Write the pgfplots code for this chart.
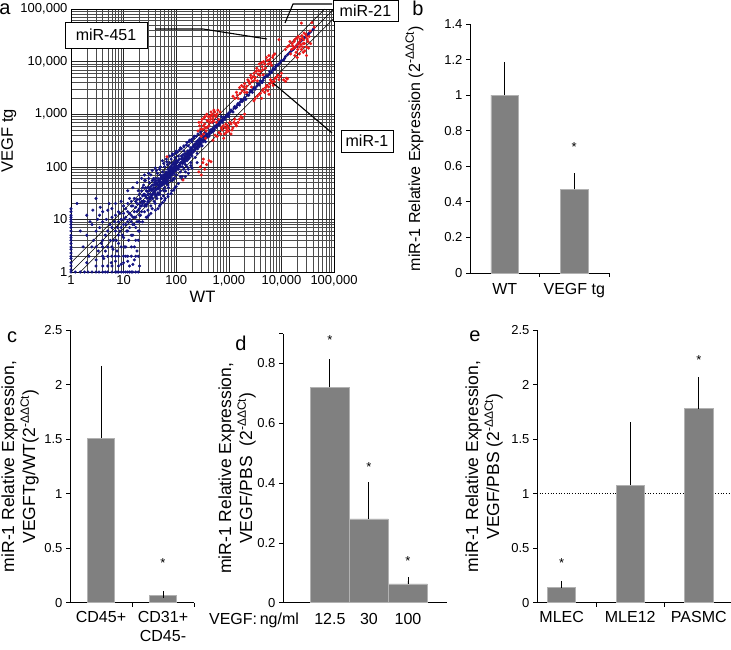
\documentclass[border=0pt]{standalone}
\usepackage{pgfplots}
\pgfplotsset{compat=1.18}
\usepackage{fontspec}
\setmainfont{Liberation Sans}
\definecolor{dotblue}{RGB}{20,20,130}
\definecolor{dotred}{RGB}{235,25,25}
\definecolor{bargray}{RGB}{128,128,128}
\newcommand{\ddct}[1]{\textsuperscript{\fontsize{#1}{#1}\selectfont -ΔΔCt}}
\pgfplotsset{
  barpanel/.style={
    scale only axis, anchor=south west,
    axis x line*=bottom, axis y line*=left,
    axis line style={-, black, line width=0.8pt},
    tick align=outside, major tick length=4pt,
    tick style={black, line width=0.8pt},
    /pgf/number format/assume math mode=true,
    yticklabel style={font=\fontsize{13}{15}\selectfont},
    xticklabel style={font=\fontsize{16}{19}\selectfont, align=center},
    ylabel style={font=\fontsize{17.5}{21}\selectfont, align=center},
    clip=false,
  },
  barstyle/.style={ybar, bar shift=0pt, fill=bargray, draw=black!30, line width=0.6pt,
    error bars/.cd, y dir=plus, y explicit,
    error bar style={black, line width=0.9pt},
    error mark options={black, line width=0.9pt, mark size=3.6pt}},
}
\begin{document}
\begin{tikzpicture}[x=1pt,y=1pt]
\useasboundingbox (0,0) rectangle (731,649);
% ---------------- panel a ----------------
\begin{axis}[
  at={(71pt,377pt)}, anchor=south west, scale only axis, width=263pt, height=263pt,
  xmode=log, ymode=log, xmin=1, xmax=100000, ymin=1, ymax=100000,
  xtick={1,10,100,1000,10000,100000}, xticklabels={1,10,100,{1,000},{10,000},{100,000}},
  ytick={1,10,100,1000,10000,100000}, yticklabels={1,10,100,{1,000},{10,000},{100,000}},
  minor xtick={2,3,4,5,6,7,8,9,20,30,40,50,60,70,80,90,200,300,400,500,600,700,800,900,2000,3000,4000,5000,6000,7000,8000,9000,20000,30000,40000,50000,60000,70000,80000,90000},
  minor ytick={2,3,4,5,6,7,8,9,20,30,40,50,60,70,80,90,200,300,400,500,600,700,800,900,2000,3000,4000,5000,6000,7000,8000,9000,20000,30000,40000,50000,60000,70000,80000,90000},
  grid=both,
  major grid style={black!85, line width=0.55pt},
  minor grid style={black!70, line width=0.45pt},
  major tick length=0pt, minor tick length=0pt,
  axis line style={black, line width=0.7pt},
  tick label style={font=\fontsize{13}{15}\selectfont},
  xlabel={WT}, ylabel={VEGF tg},
  label style={font=\fontsize{16.5}{19}\selectfont},
  xlabel style={at={(axis description cs:0.5,-0.095)}, anchor=center},
  ylabel style={at={(axis description cs:-0.236,0.5)}, anchor=center},
]
\addplot[black, line width=0.5pt] coordinates {(1,1) (100000,100000)};
\addplot[black, line width=0.5pt] coordinates {(1,1.5) (66667,100000)};
\addplot[black, line width=0.5pt] coordinates {(1.5,1) (100000,66667)};
\addplot[only marks, mark=*, mark size=1.35pt, color=dotblue] coordinates {
(1,1)(1,1.1)(1,1.3)(1,1.5)(1,1.8)(1,2)(1,2.3)(1,2.7)(1,3)(1,3.5)(1,4)(1,4.5)(1,5)(1,6)(1,7)(1,8)(1,9)(1,10)(1,11)(1,12)(1,14)(1,16)
(1.2,1)(1.5,1)(1.8,1)(2.1,1)(2.5,1)(3,1)(3.4,1)(4,1)(4.5,1)(5,1)(6,1)(7,1)(7.5,1)(8,1)(9,1)(10,1)(11,1)(12,1)(13,1)(14,1)(15,1)(17,1)(19,1)
(4,2)(5,2)(6,2)(7,2)(8,2)(10,2)(12,2)(14,2)(17,2)(19,2)
(1.3,20)(1.5,6)(1.7,3)(2,12)(2.2,2)(2.5,8)(2.7,4)(3,25)(3,6)(3.3,2.5)(3.5,12)(3.8,3.5)(4,9)(4.2,1.8)(4.5,5)(5,15)(5,3)(5.5,8)(5.8,1.5)(6,11)(6.5,4)(7,20)(7,6)(7.5,2.5)(8,9)(8,5)(8.5,13)(9,3)(9,7)(10,10)(10,18)(10,4.5)(11,8)(11,2)(12,14)(12,6)(13,25)(13,10)(14,5)(14,12)(15,8)(15,18)(16,3)(16,11)(17,22)(17,7)(18,14)(19,9)(20,30)(20,16)(20,6)(6,1.3)(9,1.4)(12,1.6)(15,1.4)(18,2.5)(4,1.3)(3.6,17)
(2,5)(2.3,9)(2.6,15)(3,3)(3.2,10)(3.5,7)(4,4)(4,14)(4.5,2.5)(4.7,10)(5,6)(5.3,20)(5.6,4)(6,7)(6,16)(6.3,2.7)(6.7,9)(7,12)(7.3,4)(7.7,7)(8,14)(8,3.5)(8.5,6)(9,10)(9,22)(9.5,5)(10,8)(10,13)(10.5,3)(11,11)(11,16)(11.5,6)(12,9)(12,20)(12.5,4)(13,13)(13,7)(14,9)(14,22)(15,11)(15,5)(16,14)(16,8)(17,17)(17,11)(18,9)(18,24)(19,15)(19,6)(20,12)(20,20)(20,9)
(2,1.5)(3,1.7)(5,1.3)(7,1.6)(10,1.5)(13,1.3)(16,1.7)(20,1.3)(3,1.3)(8,1.3)(2.5,3)(4,3)(6,3)(11,3)(14,3)(17,4)(19,4)
(21,25)(21,12)(22,35)(22,18)(23,9)(23,28)(24,22)(24,45)(25,14)(25,30)(26,19)(26,55)(27,11)(27,26)(28,34)(28,20)(29,15)(29,40)(30,30)(30,60)(30,12)(32,24)(32,38)(33,18)(33,70)(35,30)(35,45)(35,16)(36,25)(36,55)(38,40)(38,22)(40,35)(40,60)(40,20)(42,48)(42,28)(44,38)(44,75)(46,30)(46,55)(48,42)(48,90)(50,50)(50,35)(50,70)(52,25)(52,60)(55,45)(55,80)(58,52)(58,35)(60,65)(60,100)(60,40)(62,55)(65,75)(65,48)(68,60)(68,110)(70,70)(70,45)(72,90)(75,65)(75,120)(78,55)(80,85)(80,140)(84,70)(88,95)(88,60)(90,110)(95,85)(95,150)(100,100)(100,70)(100,130)
(20,24)(21,18)(22,22)(23,20)(23,40)(24,30)(25,22)(25,18)(26,28)(27,35)(27,18)(28,25)(29,30)(29,22)(30,40)(31,26)(31,35)(32,30)(33,42)(33,26)(34,36)(35,55)(36,38)(36,30)(37,45)(38,32)(39,50)(39,35)(40,45)(40,28)(41,55)(42,38)(43,50)(44,45)(45,32)(45,60)(46,45)(47,38)(48,55)(49,48)(50,60)(50,42)(51,52)(53,65)(54,50)(55,58)(56,48)(57,70)(58,62)(59,55)(60,55)(61,72)(62,65)(63,50)(64,80)(65,60)(66,55)(67,78)(68,72)(69,65)(70,90)(71,60)(72,70)(73,65)(74,85)(75,80)(76,72)(77,100)(78,80)(79,70)(80,70)(81,100)(82,90)(83,85)(84,110)(85,75)(86,95)(87,85)(88,120)(89,80)(90,90)(91,75)(92,115)(93,100)(94,85)(95,120)(96,95)(97,90)(98,130)(99,85)
(30,22)(34,28)(37,33)(41,30)(45,40)(47,52)(53,45)(56,62)(59,48)(63,58)(66,70)(69,52)(73,80)(76,62)(79,95)(82,75)(86,80)(92,95)(97,110)(105,120)(115,100)(125,140)(135,130)(145,160)(155,140)(165,200)(175,160)(185,210)(195,180)(205,240)(215,200)(225,270)(235,230)(245,280)(255,220)(265,300)(275,240)(285,320)(295,280)(18,20)(16,25)(14,18)(19,35)(22,14)(26,40)(31,50)(37,60)(43,25)(49,30)(57,28)(63,35)(71,40)(85,55)(94,60)(120,65)(140,90)(160,100)(190,120)(230,150)
(30,75)(35,85)(40,95)(45,16)(50,19)(55,130)(60,23)(65,140)(70,27)(75,160)(80,31)(85,175)(90,36)(100,200)(100,42)(110,48)(120,230)(130,58)(140,250)(150,65)(160,290)(170,75)(180,320)(200,95)(220,380)(250,120)(15,40)(18,50)(22,60)(25,70)(12,35)(28,11)(33,13)(40,15)(48,18)(55,21)(62,25)(70,30)(82,35)(95,40)(130,65)(150,80)(170,90)(190,105)(25,55)(42,85)(50,100)(58,115)(66,125)(85,165)(95,180)(105,190)(115,210)(125,220)(140,240)(155,260)(175,300)(195,330)(215,350)(240,380)(260,420)(290,460)
(105,95)(108,130)(112,105)(115,140)(118,110)(122,100)(125,160)(128,120)(132,115)(135,170)(138,140)(142,130)(145,125)(148,180)(152,140)(155,170)(158,150)(162,145)(165,160)(168,190)(172,175)(175,200)(178,170)(182,180)(185,170)(188,230)(192,200)(195,210)(198,190)
(110,90)(110,160)(120,120)(120,80)(130,150)(130,100)(140,120)(140,200)(150,150)(150,110)(160,180)(160,130)(170,140)(170,250)(180,200)(180,150)(190,170)(200,220)(200,160)(200,300)(210,190)(220,260)(230,210)(240,300)(250,240)(250,180)(260,320)(270,260)(280,350)(290,270)(300,300)(300,400)(310,250)(320,380)(340,330)(350,450)(360,300)(380,420)(400,400)(400,550)(420,380)(450,500)(470,450)(500,520)(500,700)(520,480)(550,600)(580,560)(600,650)(620,800)(650,620)(680,720)(700,750)(720,900)(750,700)(800,850)(850,800)(900,950)(950,1000)(1000,1050)(1000,900)
(205,200)(215,250)(225,230)(235,260)(245,230)(255,270)(265,250)(275,290)(285,270)(295,320)(310,330)(325,300)(335,360)(345,320)(355,380)(365,350)(375,400)(390,370)(410,430)(430,420)(440,460)(460,480)(480,520)(490,470)(510,550)(530,520)(560,580)(590,600)(610,620)(640,680)(670,650)(690,700)(730,760)(760,800)(790,780)(820,870)(870,900)(920,900)(980,1000)
(1100,1200)(1200,1100)(1300,1400)(1400,1350)(1500,1600)(1600,1500)(1700,1900)(1800,1750)(2000,2100)(2100,1900)(2200,2400)(2400,2300)(2600,2800)(2800,2600)(3000,3200)(3200,3000)(3500,3800)(3800,3600)(4000,4300)(4300,4000)(4600,4900)(5000,5200)(5500,5300)(6000,6400)(6500,6200)(7000,7500)(7500,7200)(8000,8500)(9000,9000)(10000,10500)(11000,10800)(12000,12500)(13000,13500)(14000,14500)(16000,16500)(18000,18500)(20000,21000)(22000,23000)(25000,26000)(28000,29000)(32000,33000)(36000,37000)(40000,41000)
(1050,1100)(1150,1150)(1250,1300)(1350,1300)(1450,1500)(1550,1550)(1650,1700)(1750,1800)(1900,1900)(2050,2000)(2300,2300)(2500,2600)(2700,2700)(2900,3000)(3100,3100)(3400,3400)(3700,3700)(4100,4100)(4500,4400)(4800,5000)(5200,5400)(5800,5700)(6200,6300)(6800,6900)(7200,7100)(7800,8000)(8500,8600)(9500,9700)(11500,11500)(15000,15500)(17000,17200)(19000,19500)(21000,22000)(23000,24000)(26000,27000)(30000,31000)(34000,35000)
};
\addplot[only marks, mark=*, mark size=1.35pt, color=dotred] coordinates {
(260,480)(280,600)(300,700)(320,520)(340,850)(350,650)(370,480)(380,1000)(400,760)(420,600)(440,900)(460,1100)(480,700)(500,850)(520,1200)(550,950)(580,700)(600,1000)(300,380)(330,420)(360,350)(390,560)(450,800)
(270,700)(290,520)(310,800)(330,600)(350,900)(360,550)(390,750)(410,900)(430,700)(460,950)(490,1000)(510,750)(540,1100)(570,900)(620,1200)(640,800)(680,1100)
(500,320)(600,380)(700,420)(750,500)(800,350)(850,550)(900,450)(950,600)(1000,480)(1100,650)(1200,550)(1300,800)(1500,700)(1700,900)(2000,1000)(1100,420)(1400,600)
(550,400)(650,450)(720,550)(780,600)(830,420)(880,650)(920,500)(980,550)(1050,700)(1150,500)(1250,700)(1350,650)(1600,800)(1800,850)
(1200,2200)(1400,2600)(1500,2000)(1600,3200)(1800,2800)(2000,3800)(2100,3000)(2300,4500)(2500,3800)(2600,5500)(2800,4200)(3000,6000)(3200,5000)(3400,7500)(3600,5800)(3800,9000)(4000,6500)(4300,8000)(4600,10000)(5000,7500)(5200,12000)(5600,9000)(6000,11000)(6500,8500)(7000,13000)(2200,2600)(2700,3300)(3500,4300)(4500,5600)
(1300,2000)(1450,2300)(1650,2500)(1750,3500)(1900,3300)(2000,2600)(2200,3400)(2400,4200)(2700,4800)(2900,5200)(3100,4400)(3300,6500)(3700,6800)(3900,5500)(4200,9500)(4400,7000)(4800,9000)(5400,10500)(5800,13000)(6200,9500)(6800,12000)(7500,14000)
(3000,1800)(3500,2200)(4000,2500)(4500,3000)(5000,3200)(5500,2800)(6000,3800)(6500,4200)(7000,3500)(7500,4800)(8000,5000)(9000,4500)(12000,4200)(13000,4700)(10000,6000)(4200,2000)(5800,2400)
(3200,2000)(3800,2400)(4400,2800)(4800,2600)(5200,3500)(5700,3300)(6200,4500)(6800,3900)(7300,4200)(8500,5500)(9500,5200)(11000,4500)(12500,4800)
(9000,26000)(12000,17000)(14000,20000)(15000,14000)(16000,22000)(17000,18000)(18000,26000)(19000,15000)(20000,21000)(21000,30000)(22000,19000)(23000,25000)(24000,17000)(25000,28000)(26000,22000)(27000,35000)(28000,16000)(30000,30000)(32000,24000)(33000,18000)(35000,38000)(24000,54000)(38000,55000)(42000,45000)(20000,12000)(30000,13000)
(13000,19000)(14500,24000)(15500,17000)(16500,20000)(17500,24000)(18500,19000)(19500,28000)(20500,17000)(21500,23000)(22500,27000)(23500,21000)(24500,31000)(25500,19000)(26500,26000)(27500,22000)(29000,33000)(31000,27000)(34000,30000)(36000,22000)(30000,19000)(26000,15000)(22000,14000)(18000,13000)
(270,80)(290,100)(320,120)(350,90)(380,110)(420,130)(460,125)(300,70)(67,155)(135,56)(330,140)
};
\end{axis}
% callouts
\draw[line width=1.1pt] (155,620) -- (203,620) -- (267,610);
\node[draw, line width=0.8pt, fill=white, minimum width=82pt, minimum height=26pt, inner sep=0pt, font=\fontsize{16}{18}\selectfont] at (106,614) {miR-451};
\draw[line width=1.1pt] (332,645) -- (293,645) -- (285,626);
\node[draw, line width=0.8pt, fill=white, minimum width=65pt, minimum height=21pt, inner sep=0pt, font=\fontsize{16}{18}\selectfont] at (365.5,638.5) {miR-21};
\draw[line width=1.1pt] (332,516) -- (273,566);
\node[draw, line width=0.8pt, fill=white, minimum width=52pt, minimum height=22pt, inner sep=0pt, font=\fontsize{16}{18}\selectfont] at (367,508) {miR-1};
% ---------------- panel b ----------------
\begin{axis}[barpanel, at={(470pt,376pt)}, width=139pt, height=249pt,
  xmin=-0.5, xmax=1.5, ymin=0, ymax=1.4,
  ytick={0,0.2,0.4,0.6,0.8,1,1.2,1.4},
  xtick={0.5,1.5}, xticklabels={,,},
  extra x ticks={0,1}, extra x tick labels={WT,VEGF tg},
  extra x tick style={major tick length=0pt, xticklabel style={yshift=-7pt}},
  ylabel={miR-1 Relative Expression (2\ddct{12})},
  ylabel style={font=\fontsize{16}{19}\selectfont, at={(axis description cs:-0.4,0.5)}, anchor=center},
]
\addplot[bar width=0.4, barstyle] coordinates {(0,1) +- (0,0.165) (1,0.47) +- (0,0.07)};
\node[font=\fontsize{13}{15}\selectfont, yshift=-3pt] at (axis cs:1,0.725) {*};
\end{axis}
% ---------------- panel c ----------------
\begin{axis}[barpanel, at={(70pt,46.3pt)}, width=124pt, height=272.4pt,
  xmin=-0.5, xmax=1.5, ymin=0, ymax=2.5,
  ytick={0,0.5,1,1.5,2,2.5},
  xtick={0.5,1.5}, xticklabels={,,},
  extra x ticks={0,1}, extra x tick labels={CD45+,{CD31+\\CD45-}},
  extra x tick style={major tick length=0pt, xticklabel style={yshift=-5pt}},
  ylabel={miR-1 Relative Expression,\\VEGFTg/WT(2\ddct{12})},
  ylabel style={at={(axis description cs:-0.403,0.5)}, anchor=center},
]
\addplot[bar width=0.44, barstyle] coordinates {(0,1.51) +- (0,0.63) (1,0.064) +- (0,0.012)};
\node[font=\fontsize{13}{15}\selectfont, yshift=-3pt] at (axis cs:1,0.39) {*};
\end{axis}
% ---------------- panel d ----------------
\begin{axis}[barpanel, at={(283pt,46.3pt)}, width=164pt, height=269.1pt,
  xmin=-1.2, xmax=3, ymin=0, ymax=0.9,
  ytick={0,0.2,0.4,0.6,0.8},
  extra y ticks={0.9}, extra y tick labels={},
  xtick={0,1,2}, xticklabels={12.5,30,100},
  x tick style={draw=none},
  xticklabel style={yshift=-3pt},
  ylabel={miR-1 Relative Expression,\\VEGF/PBS~~(2\ddct{12})},
  ylabel style={at={(axis description cs:-0.28,0.5)}, anchor=center},
]
\addplot[bar width=1, barstyle] coordinates {(0,0.72) +- (0,0.083) (1,0.28) +- (0,0.11) (2,0.063) +- (0,0.01)};
\node[font=\fontsize{13}{15}\selectfont, yshift=-3pt] at (axis cs:0,0.889) {*};
\node[font=\fontsize{13}{15}\selectfont, yshift=-3pt] at (axis cs:1,0.464) {*};
\node[font=\fontsize{13}{15}\selectfont, yshift=-3pt] at (axis cs:2,0.15) {*};
\end{axis}
\node[font=\fontsize{16}{19}\selectfont] at (254,29) {VEGF:\,ng/ml};
% ---------------- panel e ----------------
\begin{axis}[barpanel, at={(537pt,46.3pt)}, width=194pt, height=272.4pt,
  xmin=-0.36, xmax=2.47, ymin=0, ymax=2.5,
  ytick={0,0.5,1,1.5,2,2.5},
  xtick={0.5,1.5}, xticklabels={,,},
  extra x ticks={0,1,2}, extra x tick labels={MLEC,MLE12,PASMC},
  extra x tick style={major tick length=0pt, xticklabel style={yshift=-5pt}},
  ylabel={miR-1 Relative Expression,\\VEGF/PBS (2\ddct{12})},
  ylabel style={at={(axis description cs:-0.273,0.5)}, anchor=center},
]
\addplot[black, dotted, line width=0.7pt] coordinates {(-0.36,1) (2.47,1)};
\addplot[bar width=0.41, barstyle] coordinates {(0,0.14) +- (0,0.028) (1,1.079) +- (0,0.544) (2,1.782) +- (0,0.253)};
\node[font=\fontsize{13}{15}\selectfont, yshift=-3pt] at (axis cs:0,0.39) {*};
\node[font=\fontsize{13}{15}\selectfont, yshift=-3pt] at (axis cs:2,2.255) {*};
\end{axis}
% panel letters
\node[font=\fontsize{20}{20}\selectfont] at (5,640) {a};
\node[font=\fontsize{20}{20}\selectfont] at (418,641) {b};
\node[font=\fontsize{20}{20}\selectfont] at (12,312) {c};
\node[font=\fontsize{20}{20}\selectfont] at (241,306) {d};
\node[font=\fontsize{20}{20}\selectfont] at (475,313) {e};
\end{tikzpicture}
\end{document}
